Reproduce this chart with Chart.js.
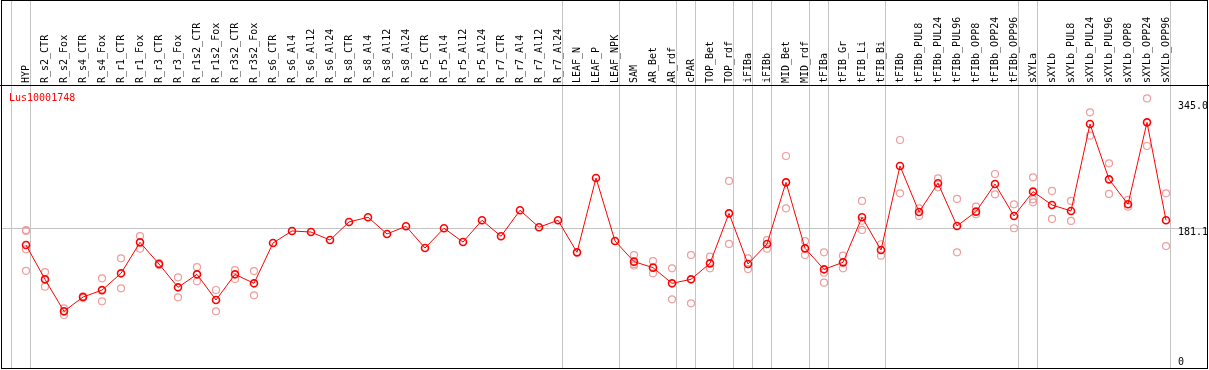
<!DOCTYPE html>
<html>
<head>
<meta charset="utf-8">
<script src="https://cdn.jsdelivr.net/npm/chart.js@4"></script>
<style>
html, body { margin: 0; padding: 0; background: #fff; }
canvas { display: block; }
</style>
</head>
<body>
<canvas id="canvas" width="1209" height="370"></canvas>
<script>
// sample names, one per column
var categories = ['HYP', 'R_s2_CTR', 'R_s2_Fox', 'R_s4_CTR', 'R_s4_Fox', 'R_r1_CTR', 'R_r1_Fox',
    'R_r3_CTR', 'R_r3_Fox', 'R_r1s2_CTR', 'R_r1s2_Fox', 'R_r3s2_CTR', 'R_r3s2_Fox',
    'R_s6_CTR', 'R_s6_Al4', 'R_s6_Al12', 'R_s6_Al24', 'R_s8_CTR', 'R_s8_Al4', 'R_s8_Al12', 'R_s8_Al24',
    'R_r5_CTR', 'R_r5_Al4', 'R_r5_Al12', 'R_r5_Al24', 'R_r7_CTR', 'R_r7_Al4', 'R_r7_Al12', 'R_r7_Al24',
    'LEAF_N', 'LEAF_P', 'LEAF_NPK', 'SAM', 'AR_Bet', 'AR_rdf', 'cPAR', 'TOP_Bet', 'TOP_rdf',
    'iFIBa', 'iFIBb', 'MID_Bet', 'MID_rdf', 'tFIBa', 'tFIB_Gr', 'tFIB_Li', 'tFIB_Bi',
    'tFIBb', 'tFIBb_PUL8', 'tFIBb_PUL24', 'tFIBb_PUL96', 'tFIBb_OPP8', 'tFIBb_OPP24', 'tFIBb_OPP96',
    'sXYLa', 'sXYLb', 'sXYLb_PUL8', 'sXYLb_PUL24', 'sXYLb_PUL96', 'sXYLb_OPP8', 'sXYLb_OPP24', 'sXYLb_OPP96'];

// mean expression (red line)
var means = [158.6, 114, 72.4, 91, 100, 121.8, 162.1, 133.9, 103.6, 120.5, 87.1, 120.5, 108.8,
    161.2, 176.9, 175.5, 165.1, 188.6, 194.7, 173, 183, 154.7, 180.4, 162.5, 190.8, 170, 203.8, 181.7, 190.8,
    149.1, 245.8, 163.8, 137, 129.2, 108.8, 114, 134.8, 199.8, 133.9, 160, 240.1, 154.3,
    127, 136.1, 194.7, 152.1, 261.4, 201.6, 238.9, 183.4, 202, 238, 196.4,
    228, 210.7, 202.9, 316, 244, 211.6, 318.1, 190.8];

// single replicates (pink circles)
var replicates = [[178, 177, 153, 125], [123.5, 104.4, 114], [76.3, 67.6, 72], [92, 90], [115.3, 85.4],
    [141.3, 102.3], [170.3, 153.9], [132.6, 135], [116.6, 90.6], [130, 111.4], [100.1, 72.4],
    [126.1, 114.4], [124.8, 93.2],
    [], [], [], [], [], [], [], [], [], [], [], [], [], [], [], [], [], [], [],
    [145.6, 134, 132], [137.8, 121.8], [128.3, 88], [145.6, 82.8], [143.4, 128.3], [241.9, 160],
    [141.3, 127.4], [165.1, 153.9], [274.4, 206.3], [163.8, 145.6], [149.1, 122.6, 109.6],
    [144.7, 128.3], [215.9, 190.2, 178.2], [159.6, 144.7], [295.2, 225.9], [206.3, 196.4],
    [245.3, 233.7], [218.5, 149.1], [208.5, 198.6], [251, 224.6], [211.6, 180.4],
    [246.6, 218.1, 214.2], [228.9, 192.5], [215.9, 189.9], [331.2, 300.8], [264.8, 225],
    [217.2, 208.5], [349.3, 287.4], [225.9, 157.3]];

var tickValues = [0, 181.1, 345.0];
var gridValues = [181.1];
// last column of each sample group (a separator is drawn after it)
var groupEnds = [-1, 0, 28, 31, 34, 35, 37, 38, 39, 41, 42, 45, 52, 53, 60];
var geneName = 'Lus10001748';

var mono = '10px "DejaVu Sans Mono", monospace';

var repPoints = [];
replicates.forEach(function (list, i) {
    list.forEach(function (v) { repPoints.push({ x: i, y: v }); });
});

var decor = {
    id: 'decor',
    beforeDatasetsDraw: function (chart) {
        var c = chart.ctx, xs = chart.scales.x, ys = chart.scales.y, a = chart.chartArea;
        c.save();
        c.strokeStyle = '#c4c4c4';
        c.lineWidth = 1;
        groupEnds.forEach(function (g) {
            var px = Math.round(xs.getPixelForValue(g + 0.21)) + 0.5;
            c.beginPath(); c.moveTo(px, 0); c.lineTo(px, a.bottom + 1); c.stroke();
        });
        gridValues.forEach(function (v) {
            var py = Math.round(ys.getPixelForValue(v)) + 0.5;
            c.beginPath(); c.moveTo(a.left, py); c.lineTo(a.right, py); c.stroke();
        });
        c.restore();
    },
    afterDraw: function (chart) {
        var c = chart.ctx, xs = chart.scales.x, ys = chart.scales.y, a = chart.chartArea;
        c.save();
        // frame and header separator
        c.strokeStyle = '#000';
        c.lineWidth = 1;
        c.strokeRect(1.5, 0.5, 1206, 368);
        c.beginPath(); c.moveTo(0, 85.5); c.lineTo(1209, 85.5); c.stroke();

        // rotated column labels
        c.font = mono;
        c.fillStyle = '#000';
        c.textAlign = 'left';
        c.textBaseline = 'middle';
        categories.forEach(function (name, i) {
            c.save();
            c.translate(xs.getPixelForValue(i) + 0.5, 83);
            c.rotate(-Math.PI / 2);
            c.fillText(name, 0, 0);
            c.restore();
        });

        // value labels on the right
        c.textBaseline = 'top';
        tickValues.forEach(function (v) {
            var py = Math.min(ys.getPixelForValue(v), a.bottom - 10);
            c.fillText(v === 0 ? '0' : v.toFixed(1), 1178, py);
        });

        c.fillStyle = '#ff0000';
        c.textBaseline = 'middle';
        c.fillText(geneName, 9, 98);
        c.restore();
    }
};

new Chart(document.getElementById('canvas'), {
    type: 'line',
    data: {
        datasets: [{
            type: 'line',
            data: means.map(function (v, i) { return { x: i, y: v }; }),
            borderColor: '#ff0000',
            borderWidth: 1,
            pointRadius: 3.5,
            pointBorderWidth: 1.6,
            pointBorderColor: '#ff0000',
            pointBackgroundColor: 'rgba(0,0,0,0)',
            tension: 0,
            order: 0
        }, {
            type: 'scatter',
            data: repPoints,
            showLine: false,
            pointRadius: 3.5,
            pointBorderWidth: 1.2,
            pointBorderColor: '#f09c9c',
            pointBackgroundColor: 'rgba(0,0,0,0)',
            order: 1
        }]
    },
    options: {
        responsive: false,
        animation: false,
        events: [],
        layout: { autoPadding: false, padding: { top: 86, left: 1, right: 1, bottom: 3 } },
        plugins: { legend: { display: false }, tooltip: { enabled: false } },
        scales: {
            x: { type: 'linear', display: false, min: -1.316, max: 62.21 },
            y: { type: 'linear', display: false, min: 0, max: 365.4 }
        }
    },
    plugins: [decor]
});
</script>
</body>
</html>
